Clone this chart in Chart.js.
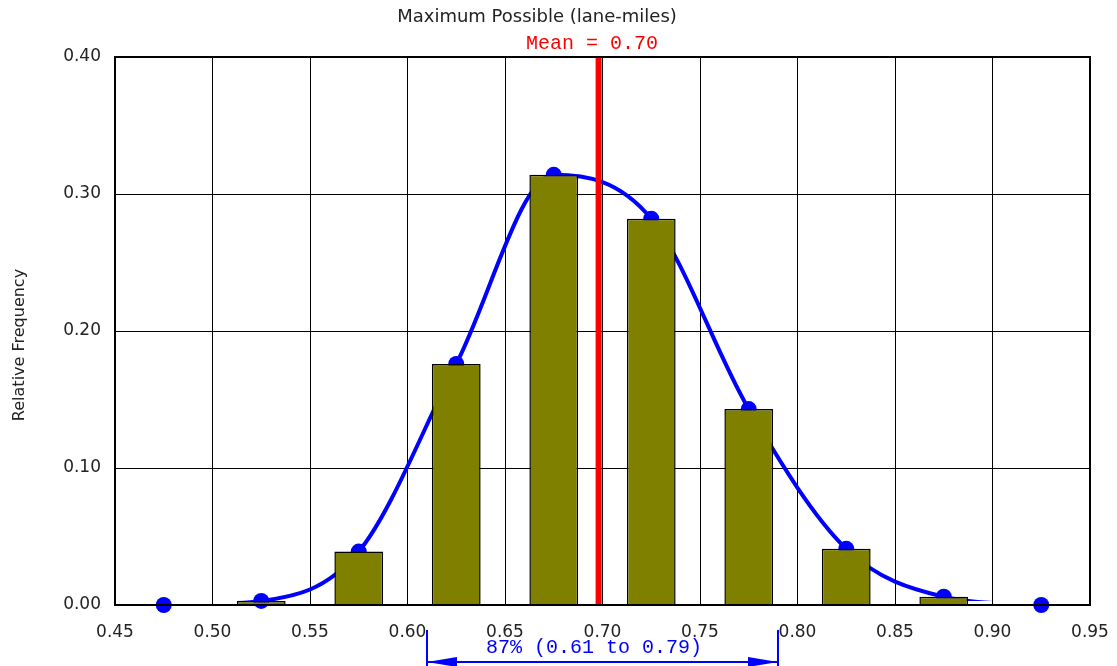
<!DOCTYPE html>
<html>
<head>
<meta charset="utf-8">
<script src="https://cdn.jsdelivr.net/npm/chart.js@4/dist/chart.umd.min.js"></script>
<style>
  html, body { margin: 0; padding: 0; background: #fff; }
  #wrap { width: 1117px; height: 666px; position: relative; }
</style>
</head>
<body>
<div id="wrap"><canvas id="c" width="1117" height="666"></canvas></div>
<script>
// Histogram of maximum possible lane-miles (relative frequency per 0.05 bin)
const binCenters = [0.525, 0.575, 0.625, 0.675, 0.725, 0.775, 0.825, 0.875];
const relFreq    = [0.003, 0.039, 0.176, 0.314, 0.282, 0.143, 0.041, 0.006];

// Fitted curve nodes: bin centres plus an empty bin at each end
const curveX = [0.475, 0.525, 0.575, 0.625, 0.675, 0.725, 0.775, 0.825, 0.875, 0.925];
const curveY = [0.000, 0.003, 0.039, 0.176, 0.314, 0.282, 0.143, 0.041, 0.006, 0.000];

const meanValue = 0.698;
const meanLabel = 'Mean = 0.70';
const rangeLow = 0.61, rangeHigh = 0.79;
const rangeLabel = '87% (0.61 to 0.79)';

const chartTitle = 'Maximum Possible (lane-miles)';
const yTitle = 'Relative Frequency';
const xMin = 0.45, xMax = 0.95, xStep = 0.05;
const yMin = 0.00, yMax = 0.40, yStep = 0.10;

const TICK_FONT = { family: 'DejaVu Sans', size: 17 };
const TICK_COLOR = '#222';

const overlay = {
  id: 'overlay',
  afterDatasetsDraw(chart) {
    const { ctx, chartArea: a, scales } = chart;
    const xs = scales.x;
    ctx.save();
    // mean line
    const mx = xs.getPixelForValue(meanValue);
    ctx.strokeStyle = '#ff0000';
    ctx.lineWidth = 6;
    ctx.beginPath();
    ctx.moveTo(mx, a.top - 1);
    ctx.lineTo(mx, a.bottom);
    ctx.stroke();
    // plot frame
    ctx.strokeStyle = '#000';
    ctx.lineWidth = 2;
    ctx.strokeRect(a.left, a.top, a.right - a.left, a.bottom - a.top);
    ctx.restore();
  },
  afterDraw(chart) {
    const { ctx, chartArea: a, scales } = chart;
    const xs = scales.x;
    ctx.save();
    // chart title
    ctx.fillStyle = TICK_COLOR;
    ctx.font = '18px "DejaVu Sans"';
    ctx.textAlign = 'center';
    ctx.textBaseline = 'middle';
    ctx.fillText(chartTitle, 537, 17);
    // y axis title
    ctx.save();
    ctx.translate(20, 345);
    ctx.rotate(-Math.PI / 2);
    ctx.font = '16px "DejaVu Sans"';
    ctx.fillText(yTitle, 0, 0);
    ctx.restore();
    // mean label
    ctx.fillStyle = '#ff0000';
    ctx.font = '20px "Liberation Mono"';
    ctx.textAlign = 'center';
    ctx.fillText(meanLabel, 592, 44);
    // interval annotation
    const x1 = xs.getPixelForValue(rangeLow);
    const x2 = xs.getPixelForValue(rangeHigh);
    const ay = 662;
    ctx.strokeStyle = '#0000ff';
    ctx.fillStyle = '#0000ff';
    ctx.lineWidth = 2;
    ctx.beginPath();
    ctx.moveTo(x1, 630); ctx.lineTo(x1, 666);
    ctx.moveTo(x2, 630); ctx.lineTo(x2, 666);
    ctx.moveTo(x1, ay); ctx.lineTo(x2, ay);
    ctx.stroke();
    ctx.beginPath();
    ctx.moveTo(x1, ay); ctx.lineTo(x1 + 30, ay - 5); ctx.lineTo(x1 + 30, ay + 5); ctx.closePath();
    ctx.moveTo(x2, ay); ctx.lineTo(x2 - 30, ay - 5); ctx.lineTo(x2 - 30, ay + 5); ctx.closePath();
    ctx.fill();
    ctx.font = '20px "Liberation Mono"';
    ctx.fillText(rangeLabel, 594, 648);
    ctx.restore();
  }
};

new Chart(document.getElementById('c'), {
  type: 'bar',
  data: {
    datasets: [
      {
        type: 'bar',
        order: 0,
        data: binCenters.map((x, i) => ({ x, y: relFreq[i] })),
        backgroundColor: '#808000',
        borderColor: '#000',
        borderWidth: 1.5,
        barPercentage: 0.5,
        categoryPercentage: 1.0
      },
      {
        type: 'scatter',
        order: 1,
        data: curveX.map((x, i) => ({ x, y: curveY[i] })),
        pointRadius: 8,
        pointBackgroundColor: '#0000ff',
        pointBorderWidth: 0,
        showLine: false,
        clip: false
      },
      {
        type: 'line',
        order: 2,
        data: curveX.map((x, i) => ({ x, y: curveY[i] })),
        borderColor: '#0000ff',
        borderWidth: 4,
        pointRadius: 0,
        fill: false,
        cubicInterpolationMode: 'monotone',
        // trim the flat tails lying on the zero line
        clip: { left: 0, top: 0, right: 0, bottom: -4 }
      }
    ]
  },
  options: {
    responsive: false,
    animation: false,
    events: [],
    layout: { padding: { top: 57, right: 27, left: 0, bottom: 0 } },
    plugins: { legend: { display: false }, tooltip: { enabled: false }, title: { display: false } },
    scales: {
      x: {
        type: 'linear',
        min: xMin, max: xMax,
        offset: false,
        grid: { offset: false, color: '#000', lineWidth: 1, drawTicks: false },
        border: { display: false },
        ticks: {
          stepSize: xStep,
          padding: 17,
          color: TICK_COLOR,
          font: TICK_FONT,
          maxRotation: 0,
          autoSkip: false,
          callback: v => Number(v).toFixed(2)
        },
        afterFit: s => { s.height = 61; s.paddingLeft = 0; s.paddingRight = 0; }
      },
      y: {
        type: 'linear',
        min: yMin, max: yMax,
        grid: { color: '#000', lineWidth: 1, drawTicks: false },
        border: { display: false },
        ticks: {
          stepSize: yStep,
          padding: 14,
          color: TICK_COLOR,
          font: TICK_FONT,
          callback: v => Number(v).toFixed(2)
        },
        afterFit: s => { s.width = 115; s.paddingTop = 0; s.paddingBottom = 0; }
      }
    }
  },
  plugins: [overlay]
});
</script>
</body>
</html>
